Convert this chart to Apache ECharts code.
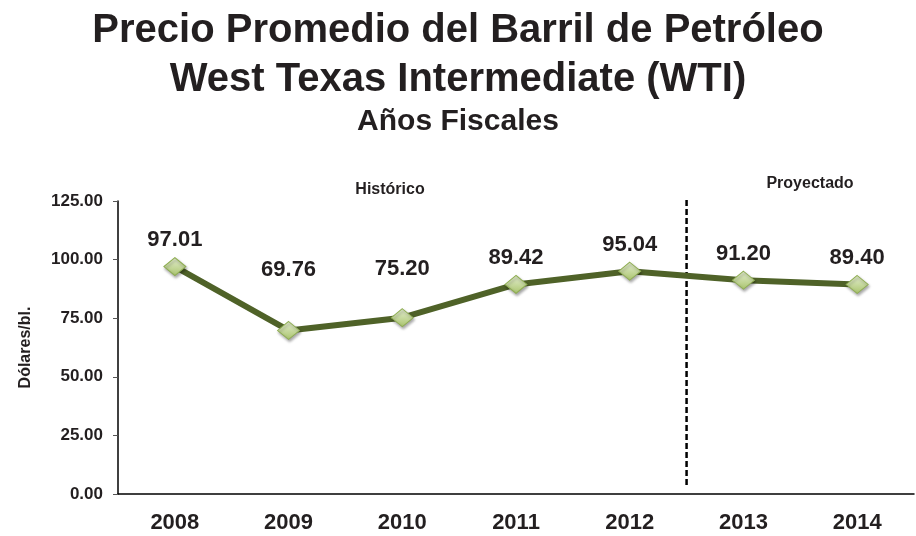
<!DOCTYPE html>
<html>
<head>
<meta charset="utf-8">
<script src="https://cdn.jsdelivr.net/npm/echarts@6/dist/echarts.min.js"></script>
<style>
  html, body { margin: 0; padding: 0; background: #fff; }
  #chart { width: 916px; height: 536px; }
</style>
</head>
<body>
<div id="chart"></div>
<script>
// datos
var years = ['2008', '2009', '2010', '2011', '2012', '2013', '2014'];
var precios = [97.01, 69.76, 75.20, 89.42, 95.04, 91.20, 89.40];
var yTicks = [0, 25, 50, 75, 100, 125];
var corteProyeccion = 5; // frontera entre 2012 y 2013 (en unidades de categoria)
var corteRango = [3.8, 126.7]; // extremos de la linea punteada (en dolares)

// etiquetas de 2009 y 2010 van mas arriba en el original
var labelDist = [6, 40, 28, 6, 6, 6, 6];

var chart = echarts.init(document.getElementById('chart'));
var font = 'Liberation Sans, Arial, sans-serif';

var option = {
  animation: false,
  textStyle: { fontFamily: font },
  title: [
    {
      text: 'Precio Promedio del Barril de Petróleo\nWest Texas Intermediate (WTI)',
      left: 'center',
      top: 1,
      textStyle: { fontSize: 40, fontWeight: 'bold', color: '#231f20', lineHeight: 49, fontFamily: font }
    },
    {
      text: 'Años Fiscales',
      left: 'center',
      top: 102,
      textStyle: { fontSize: 30, fontWeight: 'bold', color: '#231f20', fontFamily: font }
    },
    {
      text: 'Histórico',
      left: 385,
      top: 177,
      textAlign: 'center',
      textStyle: { fontSize: 16, fontWeight: 'bold', color: '#231f20', fontFamily: font }
    },
    {
      text: 'Proyectado',
      left: 805,
      top: 171,
      textAlign: 'center',
      textStyle: { fontSize: 16, fontWeight: 'bold', color: '#231f20', fontFamily: font }
    }
  ],
  grid: { left: 118, right: 2, top: 201, bottom: 42, containLabel: false, outerBoundsMode: 'none' },
  xAxis: [
    {
      type: 'category',
      data: years,
      boundaryGap: true,
      axisLine: { lineStyle: { color: '#000', width: 1.5 } },
      axisTick: { show: false },
      axisLabel: { color: '#231f20', fontSize: 22, fontWeight: 'bold', margin: 18, fontFamily: font }
    },
    {
      type: 'value',
      min: 0,
      max: years.length,
      show: false
    }
  ],
  yAxis: {
    type: 'value',
    min: 0,
    max: 125,
    interval: 25,
    name: 'Dólares/bl.',
    nameLocation: 'middle',
    nameRotate: 90,
    nameGap: 84,
    nameTextStyle: { fontSize: 16, fontWeight: 'bold', color: '#231f20', fontFamily: font },
    axisLine: { show: true, lineStyle: { color: '#000', width: 1.5 } },
    axisTick: { show: true, inside: false, length: 5, lineStyle: { color: '#555' } },
    splitLine: { show: false },
    axisLabel: {
      color: '#231f20', fontSize: 17, fontWeight: 'bold', margin: 15, fontFamily: font,
      formatter: function (v) { return yTicks.indexOf(v) >= 0 ? v.toFixed(2) : ''; }
    }
  },
  series: [
    {
      type: 'line',
      xAxisIndex: 0,
      data: precios.map(function (v, i) {
        return { value: v, label: { distance: labelDist[i] } };
      }),
      lineStyle: { color: '#4f6228', width: 6 },
      symbol: 'diamond',
      symbolSize: [22, 18],
      itemStyle: {
        color: new echarts.graphic.LinearGradient(0, 0, 0, 1, [
          { offset: 0, color: '#e6efd3' },
          { offset: 1, color: '#a9c46c' }
        ]),
        borderColor: '#8fae52',
        borderWidth: 1,
        shadowColor: 'rgba(0,0,0,0.35)',
        shadowBlur: 3,
        shadowOffsetX: 1,
        shadowOffsetY: 2
      },
      label: {
        show: true,
        position: 'top',
        color: '#231f20',
        fontSize: 22,
        fontWeight: 'bold',
        fontFamily: font,
        formatter: function (p) { return p.value.toFixed(2); }
      },
      z: 3
    },
    {
      // linea punteada historico / proyectado
      type: 'line',
      xAxisIndex: 1,
      clip: false,
      silent: true,
      symbol: 'none',
      data: corteRango.map(function (y) { return [corteProyeccion, y]; }),
      lineStyle: { color: '#000', type: [6, 3], width: 2.5 },
      z: 2
    }
  ]
};

chart.setOption(option);
</script>
</body>
</html>
